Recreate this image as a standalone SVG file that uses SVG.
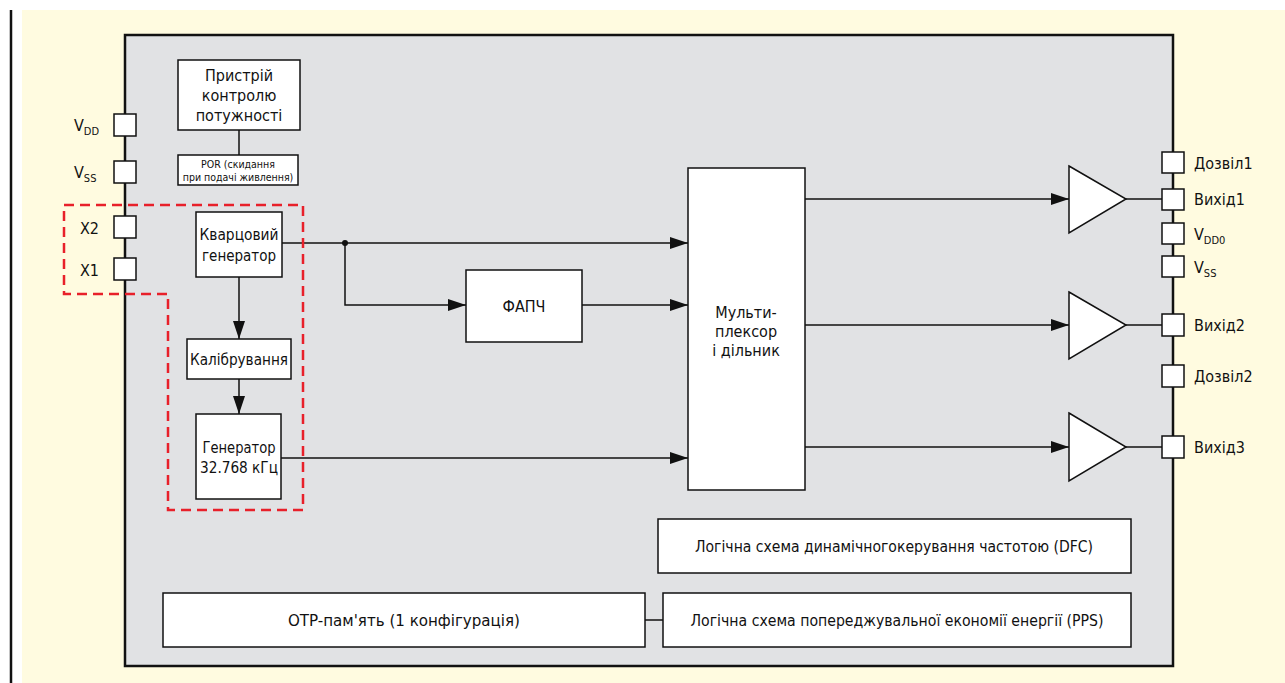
<svg xmlns="http://www.w3.org/2000/svg" width="1285" height="683" viewBox="0 0 1285 683">
<defs>
<style>
text{font-family:"Liberation Sans Narrow","DejaVu Sans Condensed","Roboto",sans-serif;fill:#111;font-size:16px;text-anchor:middle}
.box{fill:#fff;stroke:#111;stroke-width:1.5}
.pin{fill:#fff;stroke:#111;stroke-width:1.5}
.ln{fill:none;stroke:#111;stroke-width:1.5}
.lbl{text-anchor:start}
.sm{font-size:10.5px}
</style>
<marker id="ah" markerWidth="18" markerHeight="12" refX="18" refY="6" orient="auto" markerUnits="userSpaceOnUse">
<path d="M0,0 L18,6 L0,12 Z" fill="#111"/>
</marker>
</defs>
<rect width="1285" height="683" fill="#fff"/>
<rect x="22" y="10" width="1263" height="673" fill="#fffbe0"/>
<line x1="11" y1="10" x2="11" y2="683" stroke="#111" stroke-width="2.5"/>
<rect id="chip" x="125" y="35" width="1048" height="631" fill="#e1e2e4" stroke="#111" stroke-width="2.5"/>

<g id="connectors">
<line class="ln" x1="239" y1="130" x2="239" y2="155"/>
<line class="ln" x1="239" y1="277" x2="239" y2="339" marker-end="url(#ah)"/>
<line class="ln" x1="239" y1="379" x2="239" y2="414" marker-end="url(#ah)"/>
<line class="ln" x1="282" y1="243" x2="688" y2="243" marker-end="url(#ah)"/>
<circle cx="345" cy="243" r="3" fill="#111"/>
<polyline class="ln" points="345,243 345,305 466,305" marker-end="url(#ah)"/>
<line class="ln" x1="582" y1="305" x2="688" y2="305" marker-end="url(#ah)"/>
<line class="ln" x1="281" y1="458" x2="688" y2="458" marker-end="url(#ah)"/>
<line class="ln" x1="805" y1="199" x2="1069" y2="199" marker-end="url(#ah)"/>
<line class="ln" x1="805" y1="325" x2="1069" y2="325" marker-end="url(#ah)"/>
<line class="ln" x1="805" y1="447" x2="1069" y2="447" marker-end="url(#ah)"/>
<line class="ln" x1="1126" y1="199" x2="1162" y2="199"/>
<line class="ln" x1="1126" y1="325" x2="1162" y2="325"/>
<line class="ln" x1="1126" y1="447" x2="1162" y2="447"/>
<line class="ln" x1="645" y1="620" x2="663" y2="620"/>
</g>

<g id="crystal-region">
<polygon points="64,205 303,205 303,510 168,510 168,294 64,294" fill="none" stroke="#e8202a" stroke-width="2.5" stroke-dasharray="10,6"/>
</g>

<g id="power-control">
<rect class="box" x="178" y="60" width="122" height="70"/>
<text x="239" y="81">Пристрій</text>
<text x="239" y="101">контролю</text>
<text x="239" y="121">потужності</text>
</g>
<g id="por">
<rect class="box" x="178" y="155" width="120" height="30"/>
<text class="sm" x="238" y="168">POR (скидання</text>
<text class="sm" x="238" y="181">при подачі живлення)</text>
</g>
<g id="quartz">
<rect class="box" x="196" y="212" width="86" height="65"/>
<text x="239" y="240" textLength="79" lengthAdjust="spacingAndGlyphs">Кварцовий</text>
<text x="239" y="261" textLength="74" lengthAdjust="spacingAndGlyphs">генератор</text>
</g>
<g id="calibration">
<rect class="box" x="187" y="339" width="104" height="40"/>
<text x="239" y="365" textLength="98" lengthAdjust="spacingAndGlyphs">Калібрування</text>
</g>
<g id="generator">
<rect class="box" x="196" y="414" width="85" height="85"/>
<text x="239" y="453" textLength="73" lengthAdjust="spacingAndGlyphs">Генератор</text>
<text x="239" y="473" textLength="78" lengthAdjust="spacingAndGlyphs">32.768 кГц</text>
</g>
<g id="pll">
<rect class="box" x="466" y="270" width="116" height="72"/>
<text x="524" y="312">ФАПЧ</text>
</g>
<g id="mux">
<rect class="box" x="688" y="168" width="117" height="322"/>
<text x="746" y="318">Мульти-</text>
<text x="746" y="337">плексор</text>
<text x="746" y="356">і дільник</text>
</g>
<g id="buffer1"><polygon class="box" points="1069,166 1126,199 1069,233"/></g>
<g id="buffer2"><polygon class="box" points="1069,292 1126,325 1069,359"/></g>
<g id="buffer3"><polygon class="box" points="1069,413 1126,447 1069,481"/></g>
<g id="dfc">
<rect class="box" x="658" y="519" width="473" height="54"/>
<text x="894" y="552" textLength="398" lengthAdjust="spacingAndGlyphs">Логічна схема динамічногокерування частотою (DFC)</text>
</g>
<g id="pps">
<rect class="box" x="663" y="593" width="468" height="54"/>
<text x="897" y="626" textLength="413" lengthAdjust="spacingAndGlyphs">Логічна схема попереджувальної економії енергії (PPS)</text>
</g>
<g id="otp">
<rect class="box" x="163" y="593" width="482" height="54"/>
<text x="404" y="626" textLength="232" lengthAdjust="spacingAndGlyphs">OTP-пам'ять (1 конфігурація)</text>
</g>

<g id="pins-left">
<rect class="pin" x="114" y="114" width="22" height="22"/>
<text class="lbl" x="74" y="131">V<tspan font-size="11" dy="4">DD</tspan></text>
<rect class="pin" x="114" y="161" width="22" height="22"/>
<text class="lbl" x="74" y="178">V<tspan font-size="11" dy="4">SS</tspan></text>
<rect class="pin" x="114" y="216" width="22" height="22"/>
<text class="lbl" x="80" y="234">X2</text>
<rect class="pin" x="114" y="258" width="22" height="22"/>
<text class="lbl" x="80" y="276">X1</text>
</g>
<g id="pins-right">
<rect class="pin" x="1162" y="152" width="22" height="21"/>
<text class="lbl" x="1194" y="169">Дозвіл1</text>
<rect class="pin" x="1162" y="189" width="22" height="21"/>
<text class="lbl" x="1194" y="205">Вихід1</text>
<rect class="pin" x="1162" y="223" width="22" height="21"/>
<text class="lbl" x="1194" y="240">V<tspan font-size="11" dy="4">DD0</tspan></text>
<rect class="pin" x="1162" y="256" width="22" height="21"/>
<text class="lbl" x="1194" y="273">V<tspan font-size="11" dy="4">SS</tspan></text>
<rect class="pin" x="1162" y="314" width="22" height="22"/>
<text class="lbl" x="1194" y="331">Вихід2</text>
<rect class="pin" x="1162" y="365" width="22" height="22"/>
<text class="lbl" x="1194" y="382">Дозвіл2</text>
<rect class="pin" x="1162" y="436" width="22" height="22"/>
<text class="lbl" x="1194" y="453">Вихід3</text>
</g>
</svg>
